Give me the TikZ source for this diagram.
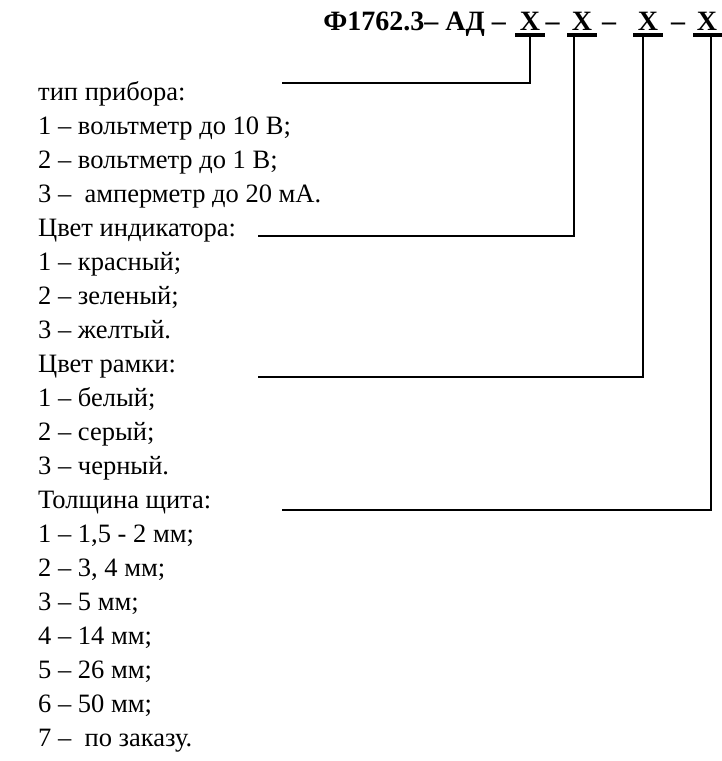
\documentclass[tikz,border=0pt]{standalone}
\usepackage{fontspec}
\setmainfont{Liberation Serif}
\usetikzlibrary{calc, positioning}

\begin{document}
\begin{tikzpicture}[x=1pt,y=-1pt,
	txt/.style={anchor=base west,inner sep=0pt,font=\fontsize{26.5}{26.5}\selectfont},
	code/.style={anchor=base,inner sep=0pt,font=\fontsize{28}{28}\selectfont\bfseries},
	lead/.style={line width=2.6pt},
	uline/.style={line width=3.6pt}]
\useasboundingbox (0,0) rectangle (722,761);
	% Code line
\node [code,anchor=base east] (head) at (506,30) {Ф1762.3– АД –};
\node [code] (x1) at (530,30) {X};
\node [code] (d1) at (552.5,30) {–};
\node [code] (x2) at (582,30) {X};
\node [code] (d2) at (609,30) {–};
\node [code] (x3) at (648,30) {X};
\node [code] (d3) at (678,30) {–};
\node [code] (x4) at (707,30) {X};
\draw [uline] ($(x1.base)+(-15,5)$) -- ($(x1.base)+(15,5)$);
\draw [uline] ($(x2.base)+(-15,5)$) -- ($(x2.base)+(15,5)$);
\draw [uline] ($(x3.base)+(-15,5)$) -- ($(x3.base)+(15,5)$);
\draw [uline] ($(x4.base)+(-14,5)$) -- ($(x4.base)+(15,5)$);

	% Legend
\node [txt] (t1) at (38,100) {тип прибора:};
\node [txt] (a1) at (38,134) {1 – вольтметр до 10 В;};
\node [txt] (a2) at (38,168) {2 – вольтметр до 1 В;};
\node [txt] (a3) at (38,202) {3 –\ \ амперметр до 20 мА.};
\node [txt] (t2) at (38,236) {Цвет индикатора:};
\node [txt] (b1) at (38,270) {1 – красный;};
\node [txt] (b2) at (38,304) {2 – зеленый;};
\node [txt] (b3) at (38,338) {3 – желтый.};
\node [txt] (t3) at (38,372) {Цвет рамки:};
\node [txt] (c1) at (38,406) {1 – белый;};
\node [txt] (c2) at (38,440) {2 – серый;};
\node [txt] (c3) at (38,474) {3 – черный.};
\node [txt] (t4) at (38,508) {Толщина щита:};
\node [txt] (e1) at (38,542) {1 – 1,5 - 2 мм;};
\node [txt] (e2) at (38,576) {2 – 3, 4 мм;};
\node [txt] (e3) at (38,610) {3 – 5 мм;};
\node [txt] (e4) at (38,644) {4 – 14 мм;};
\node [txt] (e5) at (38,678) {5 – 26 мм;};
\node [txt] (e6) at (38,712) {6 – 50 мм;};
\node [txt] (e7) at (38,746) {7 –\ \ по заказу.};

	% Leaders
\coordinate (s1) at (282,83);
\coordinate (s2) at (258,236);
\coordinate (s3) at (258,377);
\coordinate (s4) at (282,510);
\draw [lead] (s1) -| ($(x1.base)+(0,5)$);
\draw [lead] (s2) -| ($(x2.base)+(-8,5)$);
\draw [lead] (s3) -| ($(x3.base)+(-5,5)$);
\draw [lead] (s4) -| ($(x4.base)+(4,5)$);
\end{tikzpicture}
\end{document}
